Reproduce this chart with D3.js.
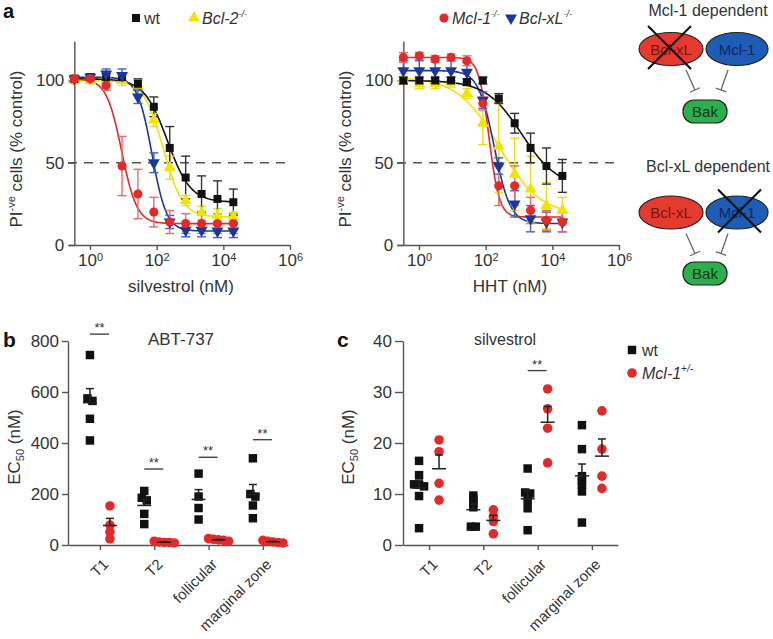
<!DOCTYPE html>
<html><head><meta charset="utf-8">
<script src="https://cdnjs.cloudflare.com/ajax/libs/d3/7.8.5/d3.min.js"></script>
<style>
body{margin:0;background:#fff}
svg{font-family:"Liberation Sans",Arial,Helvetica,sans-serif}
</style>
</head><body>
<svg id="fig" width="773" height="639"></svg>
<script>
// ---------------- DATA ----------------
// Panel a: 3-fold dilution series (nM)
const concentrationsNM = [0.339, 1.02, 3.05, 9.14, 27.4, 82.3, 247, 741, 2222, 6667, 20000];
const doseSeries = ["wt", "Bcl-2", "Mcl-1", "Bcl-xL"];
const doseTicks = [1, 1e2, 1e4, 1e6];
const pctTicks = [0, 50, 100];

// silvestrol (% PI-negative cells, mean and SEM)
const silvWt = [101, 102, 102, 102, 98, 84, 59, 41, 31, 28, 26];
const silvWtErr = [2, 2, 2, 2, 3, 6, 13, 13, 11, 11, 8];
const silvBcl2 = [100, 100, 100, 100, 97, 76, 47, 27, 19.5, 18, 17];
const silvBcl2Err = [2, 2, 2, 3, 3, 4, 7, 3, 4, 4, 3];
const silvMcl1 = [101, 101, 97, 48, 31, 20, 14, 13, 13, 13, 13];
const silvMcl1Err = [2, 2, 3, 18, 15, 9, 7, 6, 6, 6, 6];
const silvBclxl = [101, 102, 104, 103, 90, 50, 14, 9, 9, 8.5, 8.5];
const silvBclxlErr = [2, 2, 3, 4, 4, 6, 4, 4, 4, 4, 4];
// fitted curve parameters (wt, Bcl-2, Mcl-1, Bcl-xL)
const silvTop = [101, 100, 101, 102];
const silvBottom = [26, 17, 13, 8.5];
const silvLogEC50 = [2.32, 2.2, 0.95, 1.86];
const silvHill = [1.25, 1.5, 1.9, 2.0];

// HHT
const hhtWt = [100, 100, 100, 100, 99, 100, 89, 74, 59, 48, 42];
const hhtWtErr = [2, 2, 2, 2, 2, 2, 3, 6, 9, 11, 10];
const hhtBcl2 = [101, 98, 98, 99, 92, 74, 60, 43, 34, 24, 21];
const hhtBcl2Err = [3, 3, 3, 3, 3, 13, 28, 22, 20, 14, 8];
const hhtMcl1 = [114, 115, 113, 114, 112, 86, 36, 36, 21, 15, 14];
const hhtMcl1Err = [3, 2, 2, 2, 3, 4, 12, 12, 8, 6, 6];
const hhtBclxl = [106, 106, 106, 106, 105, 88, 48, 25, 16, 14, 14];
const hhtBclxlErr = [6, 6, 6, 6, 6, 5, 5, 8, 8, 6, 6];
const hhtTop = [100, 102, 114, 106];
const hhtBottom = [35, 18, 17, 13];
const hhtLogEC50 = [3.08, 2.4, 2.1, 2.26];
const hhtHill = [0.81, 0.7, 2.8, 1.82];

// Panels b, c: EC50 (nM) per B-cell subset
const subsets = ["T1", "T2", "follicular", "marginal zone"];
const abtTicks = [0, 200, 400, 600, 800];
const abtWt = [[745, 565, 575, 495, 410], [212, 185, 175, 122, 82], [280, 190, 145, 100], [340, 200, 190, 155, 105]];
const abtMcl1 = [[153, 78, 51, 24], [8, 10, 12, 15, 10], [15, 18, 20, 22, 25], [8, 10, 12, 15, 18]];
const abtSig = [827, 298, 344, 413];
const silTicks = [0, 10, 20, 30, 40];
const silWt = [[16.5, 13.7, 11.8, 11.5, 11.9, 9.6, 3.3], [9.7, 9.0, 8.2, 7.4, 3.6, 3.6], [15, 10.1, 10.3, 8.8, 7.2, 2.9], [23.5, 18.8, 13.5, 12.5, 11.8, 10.5, 4.4]];
const silMcl1 = [[18.3, 20.6, 12.1, 8.8], [6.9, 5.6, 4.6, 2.2], [30.6, 26.7, 22.9, 16.1], [26.3, 18.8, 13.5, 11.1]];
const silSig = [null, null, 34.2, null];

// ---------------- STYLE ----------------
const COL = {"wt": "#111111", "Bcl-2": "#f1e400", "Mcl-1": "#e22a2a", "Bcl-xL": "#1c379b"};
const ERRCOL = {"wt": "#333333", "Bcl-2": "#e6dc20", "Mcl-1": "#e86a6a", "Bcl-xL": "#3f5fc4"};
const AX = "#555", TXT = "#333";
const svg = d3.select("#fig");

function styleAxis(g, fs) {
  g.attr("font-size", null).attr("font-family", null);
  g.select(".domain").attr("stroke", AX).attr("stroke-width", 1.4);
  g.selectAll(".tick line").attr("stroke", AX).attr("stroke-width", 1.4);
  g.selectAll(".tick text").attr("fill", TXT).style("font-size", fs + "px");
}
function marker(type) {
  if (type === "wt") return d3.symbol(d3.symbolSquare, 64)();
  if (type === "Mcl-1") return d3.symbol(d3.symbolCircle, 66)();
  return d3.symbol(d3.symbolTriangle, 62)();
}
function markerRot(type) { return type === "Bcl-xL" ? 180 : 0; }

// ---------------- PANEL a ----------------
const yA = d3.scaleLinear().domain([0, 124]).range([245, 41]);

function dosePanel(o) {
  const x = d3.scaleLog().domain([Math.pow(10, -0.66), 1e6]).range(o.xr);
  const g = svg.append("g");
  g.append("line").attr("x1", o.xr[0]).attr("x2", o.dashEnd)
    .attr("y1", yA(50)).attr("y2", yA(50))
    .attr("stroke", "#555").attr("stroke-width", 1.4).attr("stroke-dasharray", "9,7");
  const xa = g.append("g").attr("transform", `translate(0,${yA(0)})`)
    .call(d3.axisBottom(x).tickValues(doseTicks).tickSize(5).tickSizeOuter(0).tickPadding(4));
  styleAxis(xa, 17);
  xa.selectAll(".tick text").each(function(d) {
    const t = d3.select(this); t.text(null);
    t.append("tspan").text("10");
    t.append("tspan").attr("dy", "-0.5em").style("font-size", "11px").text(Math.round(Math.log10(d)));
  });
  const yaX = x(concentrationsNM[0]);
  const ya = g.append("g").attr("transform", `translate(${yaX},0)`)
    .call(d3.axisLeft(yA).tickValues(pctTicks).tickSize(6).tickSizeOuter(0).tickPadding(4));
  styleAxis(ya, 17);
  g.append("text").attr("x", (o.xr[0] + o.xr[1]) / 2 + 2).attr("y", 292)
    .attr("text-anchor", "middle").attr("fill", TXT).style("font-size", "17px").text(o.xTitle);
  const yt = g.append("text").attr("transform", `translate(${o.yTitleX},149) rotate(-90)`)
    .attr("text-anchor", "middle").attr("fill", TXT).style("font-size", "17px");
  yt.append("tspan").text("PI");
  yt.append("tspan").attr("dy", -7).style("font-size", "11px").text("-ve");
  yt.append("tspan").attr("dy", 7).text(" cells (% control)");
  const lx0 = Math.log10(concentrationsNM[0]), lx1 = Math.log10(concentrationsNM[concentrationsNM.length - 1]);
  const samples = d3.range(0, 121).map(i => lx0 + (lx1 - lx0) * i / 120);
  const order = o.order;
  order.forEach(k => {
    const s = o.series[k];
    const f = lx => s.bottom + (s.top - s.bottom) / (1 + Math.pow(10, s.hill * (lx - s.logEC50)));
    g.append("path").datum(samples)
      .attr("d", d3.line().x(lx => x(Math.pow(10, lx))).y(lx => yA(f(lx))))
      .attr("fill", "none").attr("stroke", COL[s.name]).attr("stroke-width", 1.6);
  });
  order.forEach(k => {
    const s = o.series[k];
    const eg = g.append("g").attr("stroke", ERRCOL[s.name]).attr("stroke-width", 1.4);
    s.vals.forEach((v, i) => {
      const cx = x(concentrationsNM[i]), e = s.err[i];
      eg.append("line").attr("x1", cx).attr("x2", cx).attr("y1", yA(v - e)).attr("y2", yA(v + e));
      [v - e, v + e].forEach(w => eg.append("line").attr("x1", cx - 4.5).attr("x2", cx + 4.5).attr("y1", yA(w)).attr("y2", yA(w)));
    });
  });
  order.forEach(k => {
    const s = o.series[k];
    g.append("g").selectAll("path").data(s.vals).join("path")
      .attr("d", marker(s.name))
      .attr("transform", (v, i) => `translate(${x(concentrationsNM[i])},${yA(v)}) rotate(${markerRot(s.name)})`)
      .attr("fill", COL[s.name]);
  });
}

function mk(names, vals, errs, top, bottom, ec, hill) {
  return names.map((n, i) => ({name: n, vals: vals[i], err: errs[i], top: top[i], bottom: bottom[i], logEC50: ec[i], hill: hill[i]}));
}
dosePanel({
  xr: [68, 290], dashEnd: 290, xTitle: "silvestrol (nM)", yTitleX: 22, order: [1, 0, 3, 2],
  series: mk(doseSeries, [silvWt, silvBcl2, silvMcl1, silvBclxl], [silvWtErr, silvBcl2Err, silvMcl1Err, silvBclxlErr],
    silvTop, silvBottom, silvLogEC50, silvHill)
});
dosePanel({
  xr: [397, 619], dashEnd: 614, xTitle: "HHT (nM)", yTitleX: 351, order: [1, 3, 2, 0],
  series: mk(doseSeries, [hhtWt, hhtBcl2, hhtMcl1, hhtBclxl], [hhtWtErr, hhtBcl2Err, hhtMcl1Err, hhtBclxlErr],
    hhtTop, hhtBottom, hhtLogEC50, hhtHill)
});

function legendItem(x, y, name, label, supTxt, italic) {
  svg.append("path").attr("d", marker(name)).attr("fill", COL[name])
    .attr("transform", `translate(${x},${y}) rotate(${markerRot(name)})`);
  const t = svg.append("text").attr("x", x + 8).attr("y", y + 6).attr("fill", TXT).style("font-size", "16px");
  if (italic) t.style("font-style", "italic");
  t.append("tspan").text(label);
  if (supTxt) t.append("tspan").attr("dy", -7).style("font-size", "9px").text(supTxt);
}
legendItem(136, 18, "wt", "wt", null, false);
legendItem(194, 18, "Bcl-2", "Bcl-2", "-/-", true);
legendItem(444, 18, "Mcl-1", "Mcl-1", "-/-", true);
legendItem(511, 18, "Bcl-xL", "Bcl-xL", "-/-", true);

[["a", 3, 18, 20], ["b", 3, 347, 21], ["c", 337, 347, 21]].forEach(([l, x, y, fs]) =>
  svg.append("text").attr("x", x).attr("y", y).style("font-size", fs + "px").style("font-weight", "bold").attr("fill", "#111").text(l));

// ---------------- PANELS b, c ----------------
function spread(values, yScale, thr, step) {
  const pts = values.map((v, i) => ({v, i, py: yScale(v)})).sort((a, b) => a.py - b.py);
  const out = new Array(values.length);
  let cl = [];
  const flush = () => { const n = cl.length; cl.forEach((p, k) => out[p.i] = (k - (n - 1) / 2) * step); cl = []; };
  pts.forEach(p => { if (cl.length && p.py - cl[cl.length - 1].py >= thr) flush(); cl.push(p); });
  flush();
  return out;
}

function scatterPanel(o) {
  const y = d3.scaleLinear().domain([0, o.ticks[o.ticks.length - 1]]).range([545, 341]);
  const x = d3.scalePoint().domain(subsets).range(o.xr).padding(o.pad).align(o.align);
  const g = svg.append("g");
  const ya = g.append("g").attr("transform", `translate(${o.xr[0]},0)`)
    .call(d3.axisLeft(y).tickValues(o.ticks).tickSize(o.tick).tickSizeOuter(0).tickPadding(3));
  styleAxis(ya, 17);
  const xa = g.append("g").attr("transform", `translate(0,${y(0)})`)
    .call(d3.axisBottom(x).tickSize(5).tickSizeOuter(0));
  styleAxis(xa, 15);
  xa.selectAll(".tick text").attr("text-anchor", "end").attr("x", -8).attr("y", 15.5).attr("dy", "0.35em")
    .attr("transform", "rotate(-45)");
  const yt = g.append("text").attr("transform", `translate(${o.yTitleX},447) rotate(-90)`)
    .attr("text-anchor", "middle").attr("fill", TXT).style("font-size", "17px");
  yt.append("tspan").text("EC");
  yt.append("tspan").attr("dy", 4).style("font-size", "11px").text("50");
  yt.append("tspan").attr("dy", -4).text(" (nM)");
  g.append("text").attr("x", o.titleX).attr("y", 345).attr("text-anchor", "middle")
    .attr("fill", TXT).style("font-size", o.titleFs + "px").text(o.title);
  subsets.forEach((c, ci) => {
    [["wt", o.wt[ci], -10], ["Mcl-1", o.mcl[ci], 10]].forEach(([name, vals, off]) => {
      const cx = x(c) + off;
      const dx = spread(vals, y, 3, 5);
      g.append("g").selectAll("path").data(vals).join("path")
        .attr("d", name === "wt" ? d3.symbol(d3.symbolSquare, 72)() : d3.symbol(d3.symbolCircle, 72)())
        .attr("transform", (v, i) => `translate(${cx + dx[i]},${y(v)})`)
        .attr("fill", COL[name]);
      const m = d3.mean(vals), sem = d3.deviation(vals) / Math.sqrt(vals.length);
      const mg = g.append("g").attr("stroke", "#222").attr("stroke-width", 1.5);
      mg.append("line").attr("x1", cx - 7).attr("x2", cx + 7).attr("y1", y(m)).attr("y2", y(m));
      mg.append("line").attr("x1", cx).attr("x2", cx).attr("y1", y(m)).attr("y2", y(m + sem));
      mg.append("line").attr("x1", cx - 4).attr("x2", cx + 4).attr("y1", y(m + sem)).attr("y2", y(m + sem));
    });
    if (o.sig[ci] != null) {
      const sy = y(o.sig[ci]);
      g.append("line").attr("x1", x(c) - 10).attr("x2", x(c) + 9).attr("y1", sy).attr("y2", sy)
        .attr("stroke", "#444").attr("stroke-width", 1.4);
      g.append("text").attr("x", x(c) - 0.5).attr("y", sy - 2).attr("text-anchor", "middle")
        .attr("fill", "#333").style("font-size", "13px").text("**");
    }
  });
}
scatterPanel({xr: [68, 288], pad: 0.525, align: 0.56, ticks: abtTicks, tick: 6, yTitleX: 20,
  title: "ABT-737", titleX: 181, titleFs: 17, wt: abtWt, mcl: abtMcl1, sig: abtSig});
scatterPanel({xr: [403, 618], pad: 0.48, align: 0.5, ticks: silTicks, tick: 8, yTitleX: 354,
  title: "silvestrol", titleX: 505, titleFs: 16, wt: silWt, mcl: silMcl1, sig: silSig});

svg.append("path").attr("d", d3.symbol(d3.symbolSquare, 72)()).attr("transform", "translate(632,350)").attr("fill", COL["wt"]);
svg.append("text").attr("x", 642).attr("y", 356).attr("fill", TXT).style("font-size", "16px").text("wt");
svg.append("path").attr("d", d3.symbol(d3.symbolCircle, 72)()).attr("transform", "translate(632,373)").attr("fill", COL["Mcl-1"]);
const lc = svg.append("text").attr("x", 642).attr("y", 379).attr("fill", TXT).style("font-size", "16px").style("font-style", "italic");
lc.append("tspan").text("Mcl-1");
lc.append("tspan").attr("dy", -7).style("font-size", "10px").text("+/-");

// ---------------- DIAGRAM ----------------
function diagram(title, ty, ey, crossX, bakY) {
  const g = svg.append("g");
  g.append("text").attr("x", 708).attr("y", ty).attr("text-anchor", "middle").attr("fill", "#333")
    .style("font-size", "16px").text(title);
  g.append("ellipse").attr("cx", 671).attr("cy", ey).attr("rx", 32).attr("ry", 16.5)
    .attr("fill", "#e53b2f").attr("stroke", "#222").attr("stroke-width", 1.2);
  g.append("ellipse").attr("cx", 737).attr("cy", ey).attr("rx", 31).attr("ry", 16.5)
    .attr("fill", "#1f5cb6").attr("stroke", "#222").attr("stroke-width", 1.2);
  g.append("text").attr("x", 671).attr("y", ey + 5.5).attr("text-anchor", "middle").attr("fill", "#7d1212")
    .style("font-size", "15px").text("Bcl-xL");
  g.append("text").attr("x", 737).attr("y", ey + 5.5).attr("text-anchor", "middle").attr("fill", "#0c2a66")
    .style("font-size", "15px").text("Mcl-1");
  const cx = crossX;
  g.append("line").attr("x1", cx - 22).attr("y1", ey - 23).attr("x2", cx + 21).attr("y2", ey + 20).attr("stroke", "#111").attr("stroke-width", 2.2);
  g.append("line").attr("x1", cx - 22).attr("y1", ey + 20).attr("x2", cx + 21).attr("y2", ey - 23).attr("stroke", "#111").attr("stroke-width", 2.2);
  [[686, ey + 21, 695, ey + 41], [728, ey + 21, 721, ey + 41]].forEach(([x1, y1, x2, y2]) => {
    const dx = x2 - x1, dy = y2 - y1, L = Math.hypot(dx, dy), px = -dy / L * 5.5, py = dx / L * 5.5;
    g.append("line").attr("x1", x1).attr("y1", y1).attr("x2", x2).attr("y2", y2).attr("stroke", "#666").attr("stroke-width", 1.3);
    g.append("line").attr("x1", x2 - px).attr("y1", y2 - py).attr("x2", x2 + px).attr("y2", y2 + py).attr("stroke", "#666").attr("stroke-width", 1.3);
  });
  g.append("rect").attr("x", 683).attr("y", bakY).attr("width", 44).attr("height", 23).attr("rx", 11)
    .attr("fill", "#2fae4f").attr("stroke", "#222").attr("stroke-width", 1.2);
  g.append("text").attr("x", 705).attr("y", bakY + 17).attr("text-anchor", "middle").attr("fill", "#0d3b18")
    .style("font-size", "15px").text("Bak");
}
diagram("Mcl-1 dependent", 16, 49, 670, 100);
diagram("Bcl-xL dependent", 172, 212.5, 740, 262);
</script>
</body></html>
